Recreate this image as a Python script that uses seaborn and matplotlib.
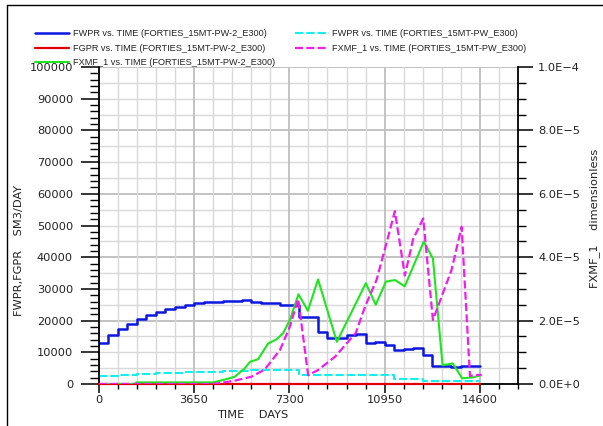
import matplotlib
matplotlib.use("Agg")
import matplotlib.pyplot as plt
from matplotlib.lines import Line2D
from matplotlib.ticker import FixedLocator, FixedFormatter, MultipleLocator
import seaborn as sns

# ---------------- data ----------------
# yearly report times (days) for the rate vectors
report_days = [0, 365, 730, 1095, 1460, 1825, 2190, 2555, 2920, 3285, 3650,
               4015, 4380, 4745, 5110, 5475, 5840, 6205, 6570, 6935, 7300,
               7665, 8030, 8395, 8760, 9125, 9490, 9855, 10220, 10585, 10950,
               11315, 11680, 12045, 12410, 12775, 13140, 13505, 13870, 14235, 14600]

# field water production rate, SM3/DAY
fwpr_pw2 = [13000, 15400, 17200, 19000, 20400, 21800, 22800, 23600, 24300, 24900,
            25400, 25800, 26000, 26200, 26300, 26500, 26000, 25700, 25400, 24800,
            25000, 21200, 21000, 16500, 14600, 14600, 15500, 15900, 13000, 13300,
            12200, 10700, 11000, 11200, 9200, 5700, 5700, 5500, 5700, 5700, 5700]
fwpr_pw = [2500, 2500, 2800, 2900, 3000, 3200, 3400, 3500, 3600, 3700,
           3800, 3900, 3900, 4000, 4100, 4200, 4300, 4300, 4300, 4300,
           4300, 2800, 2800, 2800, 2800, 2800, 2800, 2800, 2800, 2800,
           2800, 1600, 1600, 1600, 800, 800, 800, 800, 800, 800, 800]

# field gas production rate, SM3/DAY
fgpr_days = [0, 14600]
fgpr_pw2 = [0, 0]

# FXMF_1 (dimensionless), values in units of 1.0E-5
fxmf_days_pw2 = [0, 1380, 1440, 4380, 4830, 5210, 5600, 5790, 6100, 6490, 6810,
                 7060, 7320, 7650, 8010, 8400, 9120, 10230, 10610, 11000, 11350,
                 11720, 12450, 12800, 13170, 13560, 13920, 14340, 14650]
fxmf_pw2 = [0.0, 0.0, 0.05, 0.05, 0.14, 0.23, 0.50, 0.70, 0.78, 1.28, 1.41,
            1.60, 2.02, 2.83, 2.31, 3.30, 1.33, 3.18, 2.50, 3.23, 3.28,
            3.08, 4.49, 3.96, 0.59, 0.65, 0.18, 0.21, 0.28]

fxmf_days_pw = [0, 4380, 5150, 5850, 6360, 6940, 7320, 7640, 8020, 8400, 9050,
                9560, 9850, 10200, 10640, 10900, 11343, 11726, 12045, 12430,
                12800, 13515, 13900, 14220, 14400, 14650]
fxmf_pw = [0.0, 0.0, 0.095, 0.23, 0.46, 1.07, 1.81, 2.68, 0.28, 0.44, 0.86,
           1.34, 1.62, 2.44, 3.28, 4.07, 5.45, 3.42, 4.58, 5.22,
           2.02, 3.60, 4.96, 0.25, 0.28, 0.29]

# axis ticks
x_ticks = [0, 3650, 7300, 10950, 14600]
x_tick_labels = ["0", "3650", "7300", "10950", "14600"]
y_ticks = [0, 10000, 20000, 30000, 40000, 50000, 60000, 70000, 80000, 90000, 100000]
y_tick_labels = ["0", "10000", "20000", "30000", "40000", "50000", "60000",
                 "70000", "80000", "90000", "100000"]
y2_ticks = [0, 2, 4, 6, 8, 10]
y2_tick_labels = ["0.0E+0", "2.0E\u22125", "4.0E\u22125", "6.0E\u22125",
                  "8.0E\u22125", "1.0E\u22124"]
h_grid = [5000, 10000, 15000, 20000, 25000, 30000, 35000, 40000, 45000, 50000,
          55000, 60000, 65000, 70000, 75000, 80000, 85000, 90000, 95000, 100000]

legend_labels = ["FWPR vs. TIME (FORTIES_15MT-PW-2_E300)",
                 "FGPR vs. TIME (FORTIES_15MT-PW-2_E300)",
                 "FXMF_1 vs. TIME (FORTIES_15MT-PW-2_E300)",
                 "FWPR vs. TIME (FORTIES_15MT-PW_E300)",
                 "FXMF_1 vs. TIME (FORTIES_15MT-PW_E300)"]

# ---------------- style ----------------
sns.set_theme(style="white")
plt.rcParams["font.family"] = ["DejaVu Sans"]
TXT = "#222222"
W, H = 603, 426

fig, ax = plt.subplots(figsize=(6.03, 4.26), dpi=100)
fig.subplots_adjust(left=98.8 / W, right=518 / W, bottom=1 - 384 / H, top=1 - 67 / H)
ax2 = ax.twinx()

ax.set_xlim(0, 16060)
ax.set_ylim(0, 100000)
ax2.set_ylim(0, 10)

# grid: vertical from x ticks, horizontal lines every 5000 (darker every 20000)
ax.set_axisbelow(True)
ax.xaxis.set_major_locator(FixedLocator(x_ticks))
ax.xaxis.set_major_formatter(FixedFormatter(x_tick_labels))
ax.xaxis.set_minor_locator(MultipleLocator(730))
ax.grid(which="major", axis="x", color="#c2c2c2", lw=1.4, zorder=0)
ax.grid(which="minor", axis="x", color="#d8d8d8", lw=1.0, zorder=0)
for yv in h_grid:
    major = yv % 20000 == 0
    ax.axhline(yv, color="#c2c2c2" if major else "#d8d8d8",
               lw=1.4 if major else 1.0, zorder=0.5)

# rate curves on the left axis
sns.lineplot(x=report_days, y=fwpr_pw2, ax=ax, color="#0b17e0", lw=1.8,
             drawstyle="steps-post", estimator=None, sort=False, label=legend_labels[0])
sns.lineplot(x=fgpr_days, y=fgpr_pw2, ax=ax, color="#e00000", lw=1.6,
             estimator=None, sort=False, label=legend_labels[1], zorder=6, clip_on=False)
sns.lineplot(x=report_days, y=fwpr_pw, ax=ax, color="#10f0f0", lw=1.5,
             linestyle=(0, (4, 1.4)), drawstyle="steps-post", estimator=None,
             sort=False, label=legend_labels[3])

# mole fraction curves on the right axis
sns.lineplot(x=fxmf_days_pw2, y=fxmf_pw2, ax=ax2, color="#1ee61e", lw=1.5,
             estimator=None, sort=False, label=legend_labels[2])
sns.lineplot(x=fxmf_days_pw, y=fxmf_pw, ax=ax2, color="#f01cf0", lw=1.6,
             linestyle=(0, (3.6, 1.5)), estimator=None, sort=False,
             label=legend_labels[4])

for a in (ax, ax2):
    if a.get_legend() is not None:
        a.get_legend().remove()
    a.set_xlabel("")
    a.set_ylabel("")

# left axis ticks
ax.yaxis.set_major_locator(FixedLocator(y_ticks))
ax.yaxis.set_major_formatter(FixedFormatter(y_tick_labels))
ax.yaxis.set_minor_locator(MultipleLocator(2000))
ax.tick_params(axis="y", which="major", left=True, right=False, direction="out",
               length=13, width=1.1, pad=5.5, labelsize=8.2, color="black",
               labelcolor=TXT)
ax.tick_params(axis="y", which="minor", left=True, right=False, direction="out",
               length=6.5, width=1.0, color="black")
ax.tick_params(axis="x", which="major", bottom=True, top=False, direction="out",
               length=6.5, width=1.1, pad=1.5, labelsize=8.2, color="black",
               labelcolor=TXT)
ax.tick_params(axis="x", which="minor", bottom=True, top=False, direction="out",
               length=3.3, width=1.0, color="black")

# right axis ticks
ax2.yaxis.set_major_locator(FixedLocator(y2_ticks))
ax2.yaxis.set_major_formatter(FixedFormatter(y2_tick_labels))
ax2.yaxis.set_minor_locator(MultipleLocator(0.5))
ax2.tick_params(axis="y", which="major", right=True, left=False, direction="out",
                length=11, width=1.1, pad=3.5, labelsize=8.2, color="black",
                labelcolor=TXT)
ax2.tick_params(axis="y", which="minor", right=True, left=False, direction="out",
                length=5.8, width=1.0, color="black")

# spines
for s in ("top", "right"):
    ax.spines[s].set_visible(False)
for s in ("top", "left", "bottom"):
    ax2.spines[s].set_visible(False)
ax.spines["left"].set_color("black")
ax.spines["left"].set_linewidth(1.3)
ax.spines["bottom"].set_color("black")
ax.spines["bottom"].set_linewidth(1.3)
ax2.spines["right"].set_color("black")
ax2.spines["right"].set_linewidth(1.3)

# axis titles
fig.text(253 / W, 1 - 415 / H, "TIME    DAYS", ha="center", va="center",
         fontsize=8.2, color=TXT)
fig.text(19 / W, 1 - 250 / H, "FWPR,FGPR    SM3/DAY", rotation=90,
         ha="center", va="center", fontsize=8.2, color=TXT)
fig.text(595 / W, 1 - 218 / H, "FXMF_1    dimensionless", rotation=90,
         ha="center", va="center", fontsize=8.2, color=TXT)

# legend: two columns above the plot
handles = {}
for a in (ax, ax2):
    for ln in a.get_lines():
        if ln.get_label() in legend_labels:
            handles[ln.get_label()] = ln
fig.legend([handles[l] for l in legend_labels], legend_labels,
           loc="upper left", bbox_to_anchor=(35 / W, 1 - 29.5 / H), ncol=2,
           frameon=False, prop={"family": "Liberation Sans", "size": 6.6},
           handlelength=3.75, handletextpad=0.35, columnspacing=2.2,
           labelspacing=0.58, borderpad=0, borderaxespad=0, labelcolor=TXT)

# page frame
fig.add_artist(Line2D([7 / W, 7 / W], [0, 1 - 5 / H], transform=fig.transFigure,
                      color="black", lw=1.0))
fig.add_artist(Line2D([7 / W, 1], [1 - 5 / H, 1 - 5 / H], transform=fig.transFigure,
                      color="black", lw=1.0))

fig.savefig("out.png", dpi=100)
